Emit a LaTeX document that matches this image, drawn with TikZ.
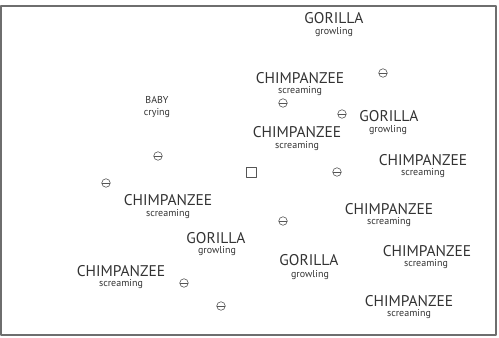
\documentclass[tikz,border=0pt]{standalone}
\usepackage{fontspec}
\setmainfont{PT Sans}
\definecolor{tinta}{HTML}{333333}
\definecolor{gris}{HTML}{555555}
\definecolor{marco}{HTML}{6E6E6E}

\begin{document}
\begin{tikzpicture}[x=1pt, y=-1pt, line cap=round, line join=round,
  species/.style={tinta, font=\fontsize{15.5}{17}\selectfont, inner sep=0pt},
  callname/.style={tinta, font=\fontsize{10}{11}\selectfont, inner sep=0pt},
  negmark/.style={circle, draw=gris, line width=0.6pt, minimum size=8.5pt, inner sep=0pt,
    path picture={\draw[gris, line width=0.6pt] (path picture bounding box.west) -- (path picture bounding box.east);}}]
  % Canvas and frame
  \useasboundingbox (0,0) rectangle (499,338);
  \draw[marco, line width=1.3pt] (1,6) rectangle (496,335);

  % Labels: species and call
  \node[species]  (gor1)  at (334,18)  {GORILLA};
  \node[callname] (gor1c) at (334,32)  {growling};
  \node[species]  (chi1)  at (300,78)  {CHIMPANZEE};
  \node[callname] (chi1c) at (300,91)  {screaming};
  \node[species]  (gor2)  at (389,116) {GORILLA};
  \node[callname] (gor2c) at (388,130) {growling};
  \node[species]  (chi2)  at (297,132) {CHIMPANZEE};
  \node[callname] (chi2c) at (297,146) {screaming};
  \node[callname] (baby)  at (157,100) {BABY};
  \node[callname] (babyc) at (157,113) {crying};
  \node[species]  (chi3)  at (423,160) {CHIMPANZEE};
  \node[callname] (chi3c) at (423,173) {screaming};
  \node[species]  (chi4)  at (168,200) {CHIMPANZEE};
  \node[callname] (chi4c) at (168,214) {screaming};
  \node[species]  (chi5)  at (389,209) {CHIMPANZEE};
  \node[callname] (chi5c) at (389,222) {screaming};
  \node[species]  (gor3)  at (216,238) {GORILLA};
  \node[callname] (gor3c) at (217,251) {growling};
  \node[species]  (gor4)  at (309,260) {GORILLA};
  \node[callname] (gor4c) at (310,275) {growling};
  \node[species]  (chi6)  at (427,251) {CHIMPANZEE};
  \node[callname] (chi6c) at (426,264) {screaming};
  \node[species]  (chi7)  at (121,271) {CHIMPANZEE};
  \node[callname] (chi7c) at (121,284) {screaming};
  \node[species]  (chi8)  at (409,301) {CHIMPANZEE};
  \node[callname] (chi8c) at (409,314) {screaming};

  % Neutral marks
  \foreach \x/\y [count=\i] in {383/73, 283/103, 342/114, 158/156, 337/172,
                                106/183, 283/221, 184/283, 221/306}
    \node[negmark] (neg\i) at (\x,\y) {};

  % Listener
  \node[draw=gris, line width=0.6pt, minimum size=10.5pt, inner sep=0pt] (self) at (251.5,172.5) {};
\end{tikzpicture}
\end{document}
